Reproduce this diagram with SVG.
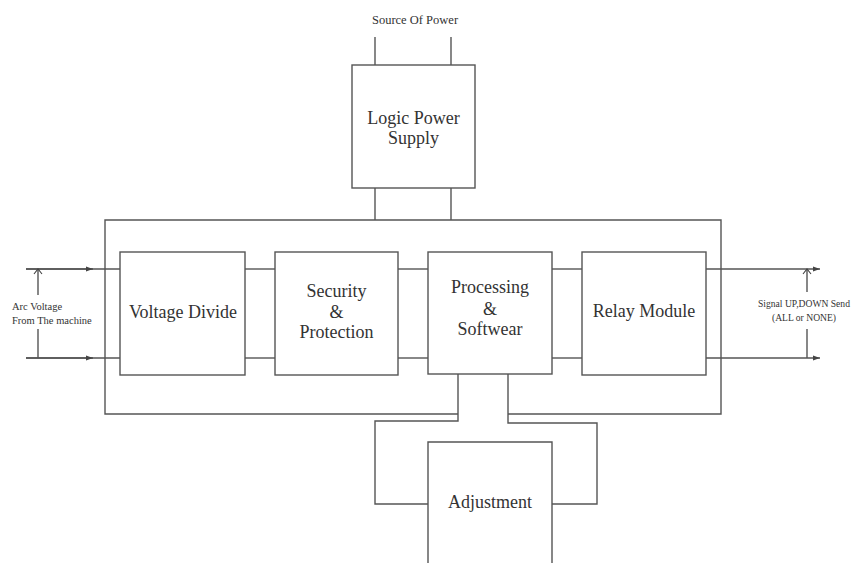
<svg xmlns="http://www.w3.org/2000/svg" width="861" height="563" viewBox="0 0 861 563">
  <style>
    .ln { fill: none; stroke: #555; stroke-width: 1.4; }
    .box { fill: #fff; stroke: #555; stroke-width: 1.4; }
    .lbl { font-family: "Liberation Serif", "Times New Roman", serif; fill: #333; text-anchor: middle; }
    .start { text-anchor: start; }
    .big { font-size: 18px; }
    .small { font-size: 10.5px; }
  </style>
  <defs>
    <marker id="tri" markerWidth="8" markerHeight="6" refX="7" refY="3" orient="auto" markerUnits="userSpaceOnUse">
      <path d="M0,0.5 L7,3 L0,5.5 Z" fill="#444"/>
    </marker>
    <marker id="chev" markerWidth="10" markerHeight="10" refX="5" refY="1" orient="0" markerUnits="userSpaceOnUse">
      <path d="M1,6 L5,1 L9,6" fill="none" stroke="#444" stroke-width="1.1"/>
    </marker>
  </defs>

  <!-- wiring, frame and signal lines -->
  <g id="connectors">
    <!-- power source leads -->
    <line class="ln" x1="375" y1="37" x2="375" y2="65"/>
    <line class="ln" x1="451" y1="37" x2="451" y2="65"/>
    <line class="ln" x1="375" y1="188" x2="375" y2="220"/>
    <line class="ln" x1="451" y1="188" x2="451" y2="220"/>
    <!-- enclosure outline, open at the bottom for the adjustment loop -->
    <polyline class="ln" points="458,414 105,414 105,220 721,220 721,414 508,414"/>
    <!-- adjustment loop -->
    <polyline class="ln" points="458,374 458,421 375,421 375,504 428,504"/>
    <polyline class="ln" points="508,374 508,423 597,423 597,504 552,504"/>
    <!-- inputs -->
    <line class="ln" x1="26" y1="269" x2="120" y2="269"/>
    <line class="ln" x1="26" y1="358" x2="120" y2="358"/>
    <line class="ln" x1="26" y1="269" x2="93" y2="269" marker-end="url(#tri)"/>
    <line class="ln" x1="26" y1="358" x2="93" y2="358" marker-end="url(#tri)"/>
    <line class="ln" x1="38" y1="295" x2="38" y2="269" marker-end="url(#chev)"/>
    <line class="ln" x1="38" y1="329" x2="38" y2="358"/>
    <!-- links between modules -->
    <line class="ln" x1="245" y1="269" x2="275" y2="269"/>
    <line class="ln" x1="245" y1="358" x2="275" y2="358"/>
    <line class="ln" x1="398" y1="269" x2="428" y2="269"/>
    <line class="ln" x1="398" y1="358" x2="428" y2="358"/>
    <line class="ln" x1="552" y1="269" x2="582" y2="269"/>
    <line class="ln" x1="552" y1="358" x2="582" y2="358"/>
    <!-- outputs -->
    <line class="ln" x1="706" y1="269" x2="820" y2="269" marker-end="url(#tri)"/>
    <line class="ln" x1="706" y1="358" x2="820" y2="358" marker-end="url(#tri)"/>
    <line class="ln" x1="807" y1="292" x2="807" y2="269" marker-end="url(#chev)"/>
    <line class="ln" x1="807" y1="329" x2="807" y2="358"/>
  </g>

  <text class="lbl" x="415" y="24" font-size="12.5">Source Of Power</text>
  <text class="lbl small start" x="12" y="310">Arc Voltage</text>
  <text class="lbl small start" x="12" y="324">From The machine</text>
  <text class="lbl" x="804" y="307" font-size="9.6">Signal UP,DOWN Send</text>
  <text class="lbl" x="804" y="321" font-size="9.6">(ALL or NONE)</text>

  <g id="logic-power-supply">
    <rect class="box" x="352" y="65" width="123" height="123"/>
    <text class="lbl big" x="413.5" y="124">Logic Power</text>
    <text class="lbl big" x="413.5" y="144">Supply</text>
  </g>

  <g id="voltage-divide">
    <rect class="box" x="120" y="252" width="125" height="123"/>
    <text class="lbl big" x="183" y="318">Voltage Divide</text>
  </g>

  <g id="security-protection">
    <rect class="box" x="275" y="252" width="123" height="123"/>
    <text class="lbl big" x="336.5" y="297">Security</text>
    <text class="lbl big" x="336.5" y="318">&amp;</text>
    <text class="lbl big" x="336.5" y="338">Protection</text>
  </g>

  <g id="processing-softwear">
    <rect class="box" x="428" y="252" width="124" height="122"/>
    <text class="lbl big" x="490" y="293">Processing</text>
    <text class="lbl big" x="490" y="315">&amp;</text>
    <text class="lbl big" x="490" y="335">Softwear</text>
  </g>

  <g id="relay-module">
    <rect class="box" x="582" y="252" width="124" height="123"/>
    <text class="lbl big" x="644" y="317">Relay Module</text>
  </g>

  <g id="adjustment">
    <path class="ln" d="M428,570 L428,442 L552,442 L552,570"/>
    <text class="lbl big" x="490" y="508">Adjustment</text>
  </g>
</svg>
